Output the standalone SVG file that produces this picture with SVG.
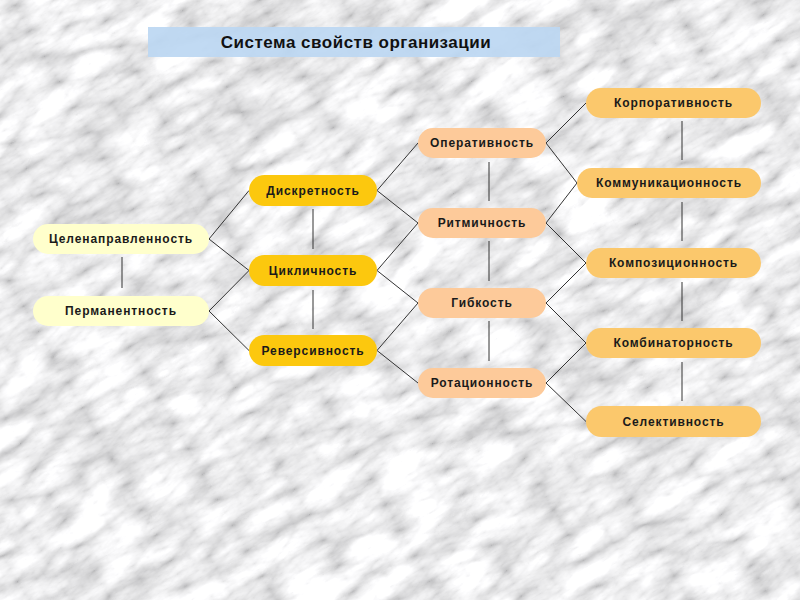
<svg xmlns="http://www.w3.org/2000/svg" width="800" height="600" viewBox="0 0 800 600">
<defs>
<filter id="marble" x="-400" y="-400" width="1600" height="1400" filterUnits="userSpaceOnUse">
<feTurbulence type="turbulence" baseFrequency="0.014 0.034" numOctaves="5" seed="11" result="n"/>
<feColorMatrix in="n" type="matrix" values="0.4 0.4 0.4 0 0.44  0.4 0.4 0.4 0 0.44  0.4 0.4 0.4 0 0.45  0 0 0 0 1"/>
</filter>
<style>
.c1{fill:#ffffcc}
.c2{fill:#fcc80e}
.c3{fill:#fdca9a}
.c4{fill:#fbc86c}
.t{font-family:"Liberation Sans",Arial,sans-serif;font-weight:bold;font-size:12px;fill:#1a1a1a;text-anchor:middle;dominant-baseline:central;letter-spacing:0.9px}
.ln{stroke:#333;stroke-width:1;fill:none}
</style>
</defs>
<rect x="0" y="0" width="800" height="600" fill="#cccccc"/>
<g transform="rotate(-30 400 300)">
<rect x="-300" y="-300" width="1400" height="1200" filter="url(#marble)"/>
</g>
<g id="title">
<rect x="148" y="27" width="412" height="30" fill="#bcd7f2" opacity="0.92"/>
<text x="356" y="42.5" style="font-family:'Liberation Sans',Arial,sans-serif;font-weight:bold;font-size:17px;letter-spacing:0.5px;fill:#111;text-anchor:middle;dominant-baseline:central">Система свойств организации</text>
</g>
<g id="connectors" class="ln">
<line x1="122" y1="257" x2="122" y2="288"/>
<line x1="313" y1="209" x2="313" y2="249"/>
<line x1="313" y1="290" x2="313" y2="329"/>
<line x1="489" y1="162" x2="489" y2="201"/>
<line x1="489" y1="241" x2="489" y2="281"/>
<line x1="489" y1="321" x2="489" y2="361"/>
<line x1="682" y1="121" x2="682" y2="160"/>
<line x1="682" y1="202" x2="682" y2="241"/>
<line x1="682" y1="282" x2="682" y2="321"/>
<line x1="682" y1="362" x2="682" y2="401"/>
<polyline points="249,190.5 209,239 249,270.5"/>
<polyline points="249,270.5 209,311 249,350.5"/>
<polyline points="418,143 377,190.5 418,223"/>
<polyline points="418,223 377,270.5 418,303"/>
<polyline points="418,303 377,350.5 418,383"/>
<polyline points="586,103 546,143 577,183"/>
<polyline points="577,183 546,223 586,263"/>
<polyline points="586,263 546,303 586,343"/>
<polyline points="586,343 546,383 586,421.5"/>
</g>
<g id="n-celenapr"><rect class="c1" x="33" y="224" width="176" height="30" rx="15"/><text class="t" x="121" y="239">Целенаправленность</text></g>
<g id="n-perman"><rect class="c1" x="33" y="296" width="176" height="30" rx="15"/><text class="t" x="121" y="311">Перманентность</text></g>
<g id="n-diskret"><rect class="c2" x="249" y="175" width="128" height="31" rx="15.5"/><text class="t" x="313" y="190.5">Дискретность</text></g>
<g id="n-cikl"><rect class="c2" x="249" y="255" width="128" height="31" rx="15.5"/><text class="t" x="313" y="270.5">Цикличность</text></g>
<g id="n-revers"><rect class="c2" x="249" y="335" width="128" height="31" rx="15.5"/><text class="t" x="313" y="350.5">Реверсивность</text></g>
<g id="n-operat"><rect class="c3" x="418" y="128" width="128" height="30" rx="15"/><text class="t" x="482" y="143">Оперативность</text></g>
<g id="n-ritm"><rect class="c3" x="418" y="208" width="128" height="30" rx="15"/><text class="t" x="482" y="223">Ритмичность</text></g>
<g id="n-gibk"><rect class="c3" x="418" y="288" width="128" height="30" rx="15"/><text class="t" x="482" y="303">Гибкость</text></g>
<g id="n-rotac"><rect class="c3" x="418" y="368" width="128" height="30" rx="15"/><text class="t" x="482" y="383">Ротационность</text></g>
<g id="n-korp"><rect class="c4" x="586" y="88" width="175" height="30" rx="15"/><text class="t" x="673.5" y="103">Корпоративность</text></g>
<g id="n-komm"><rect class="c4" x="577" y="168" width="184" height="30" rx="15"/><text class="t" x="669" y="183">Коммуникационность</text></g>
<g id="n-kompoz"><rect class="c4" x="586" y="248" width="175" height="30" rx="15"/><text class="t" x="673.5" y="263">Композиционность</text></g>
<g id="n-kombin"><rect class="c4" x="586" y="328" width="175" height="30" rx="15"/><text class="t" x="673.5" y="343">Комбинаторность</text></g>
<g id="n-selekt"><rect class="c4" x="586" y="406" width="175" height="31" rx="15.5"/><text class="t" x="673.5" y="421.5">Селективность</text></g>
</svg>
